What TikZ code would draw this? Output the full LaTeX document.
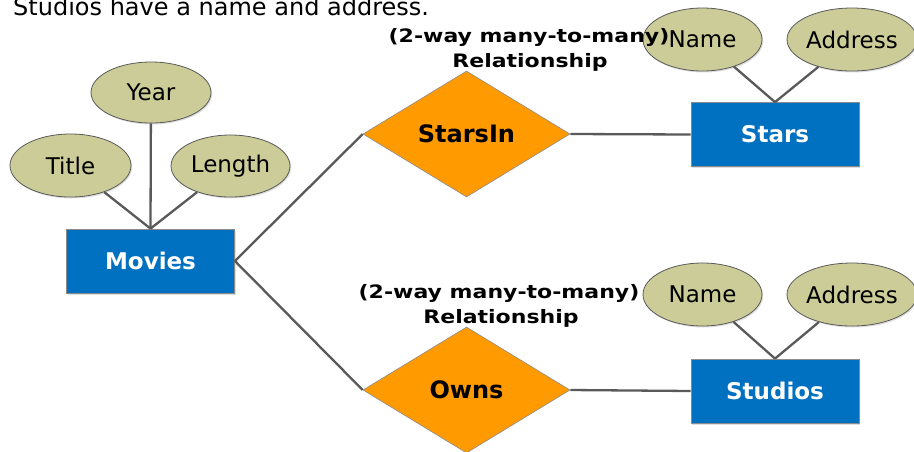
\documentclass[tikz,border=0pt]{standalone}
\usepackage{fontspec}
\setmainfont{DejaVu Sans}
\newfontfamily\widebold{DejaVu Sans}[FakeStretch=1.19]
\usetikzlibrary{shapes.geometric,shadows}

\definecolor{entblue}{HTML}{0070C0}
\definecolor{relorange}{HTML}{FF9A00}
\definecolor{attrtan}{HTML}{CCCC99}
\definecolor{linkgray}{HTML}{595959}

\begin{document}
\begin{tikzpicture}[x=1pt,y=-1pt,
  soft/.style={drop shadow={opacity=0.25,shadow xshift=1.2pt,shadow yshift=-1.5pt}},
  entity/.style={rectangle, fill=entblue, draw=linkgray!70, line width=0.8pt,
    minimum width=168pt, minimum height=64pt, inner sep=0pt, soft,
    text=white, font=\fontsize{23}{26}\selectfont\bfseries},
  relation/.style={diamond, fill=relorange, draw=linkgray!70, line width=0.6pt,
    minimum width=207pt, minimum height=126pt, inner sep=0pt,
    font=\fontsize{24}{28}\selectfont\bfseries},
  attrib/.style={ellipse, fill=attrtan, draw=linkgray, line width=0.8pt,
    minimum width=119pt, minimum height=62pt, inner sep=0pt, soft,
    font=\fontsize{23}{26}\selectfont},
  link/.style={draw=linkgray, line width=2.3pt},
  note/.style={anchor=base, inner sep=0pt, font=\widebold\fontsize{18.5}{22}\selectfont\bfseries}
]
\useasboundingbox (0,0) rectangle (914,451);

% caption line running off the top edge
\node[anchor=base west, inner sep=0pt, font=\fontsize{24}{28}\selectfont] (caption) at (13,15)
  {Studios have a name and address.};

% entities
\node[entity] (movies)  at (150.5,261) {Movies};
\node[entity] (stars)   at (775,134.5) {Stars};
\node[entity] (studios) at (775,391)   {Studios};

% relationships
\node[relation] (starsin) at (466.5,134) {StarsIn};
\node[relation] (owns)    at (466.5,390) {Owns};

% attributes of Movies
\node[attrib, minimum width=121pt, minimum height=63pt] (title)  at (70.5,165.5) {Title};
\node[attrib, minimum width=120pt, minimum height=61pt] (year)   at (151,92.5)   {Year};
\node[attrib] (length) at (230.5,166) {Length};

% attributes of Stars
\node[attrib, minimum height=63pt] (sname) at (702.5,39.5) {Name};
\node[attrib, minimum width=130pt, minimum height=63pt] (saddr) at (852,39.5) {Address};

% attributes of Studios
\node[attrib, minimum height=63pt] (tname) at (702.5,294.5) {Name};
\node[attrib, minimum width=130pt, minimum height=63pt] (taddr) at (852,294.5) {Address};

% relationship notes, one line each
\node[note] (note1a) at (529,42)   {(2-way many-to-many)};
\node[note] (note1b) at (530,67.5) {Relationship};
\node[note] (note2a) at (499,298)  {(2-way many-to-many)};
\node[note] (note2b) at (501,323.5){Relationship};

% connectors
\draw[link] (title)  -- (movies.north);
\draw[link] (year)   -- (movies.north);
\draw[link] (length) -- (movies.north);
\draw[link] (movies.east) -- (starsin.west);
\draw[link] (movies.east) -- (owns.west);
\draw[link] (starsin.east) -- (stars.west);
\draw[link] (owns.east) -- (studios.west);
\draw[link] (sname) -- (stars.north);
\draw[link] (saddr) -- (stars.north);
\draw[link] (tname) -- (studios.north);
\draw[link] (taddr) -- (studios.north);
\end{tikzpicture}
\end{document}
